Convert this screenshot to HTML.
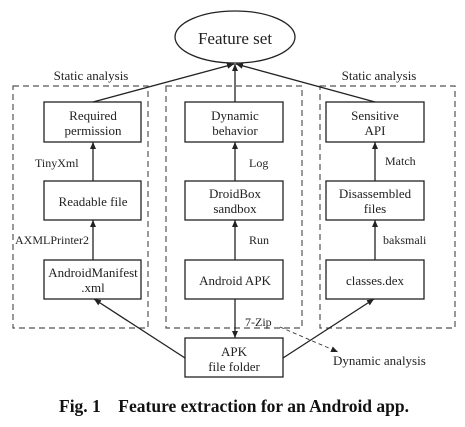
<!DOCTYPE html>
<html><head><meta charset="utf-8"><style>
html,body{margin:0;padding:0;background:#fff;}
svg{display:block;}
text{font-family:"Liberation Serif",serif;fill:#222;}
</style></head><body>
<svg width="465" height="427" viewBox="0 0 465 427" xmlns="http://www.w3.org/2000/svg">
<defs>
<marker id="a" markerWidth="8" markerHeight="8" refX="7" refY="4" orient="auto" markerUnits="userSpaceOnUse">
<path d="M0,1 L7,4 L0,7 Z" fill="#222"/></marker>
</defs>
<g fill="none" stroke="#555" stroke-width="1.2" stroke-dasharray="6,4">
<rect x="13" y="86" width="135" height="242"/>
<rect x="166" y="86" width="136" height="242"/>
<rect x="320" y="86" width="135" height="242"/>
</g>
<ellipse cx="235" cy="37" rx="60" ry="26" fill="#fff" stroke="#222" stroke-width="1.3"/>
<text x="235" y="44" font-size="17" text-anchor="middle">Feature set</text>
<text x="91" y="80" font-size="13" text-anchor="middle">Static analysis</text>
<text x="379" y="80" font-size="13" text-anchor="middle">Static analysis</text>
<g fill="#fff" stroke="#222" stroke-width="1.3">
<rect x="44" y="102" width="97" height="40"/>
<rect x="185" y="102" width="98" height="40"/>
<rect x="326" y="102" width="98" height="40"/>
<rect x="44" y="181" width="97" height="39"/>
<rect x="185" y="181" width="98" height="39"/>
<rect x="326" y="181" width="98" height="39"/>
<rect x="44" y="260" width="97" height="39"/>
<rect x="185" y="260" width="98" height="39"/>
<rect x="326" y="260" width="98" height="39"/>
<rect x="185" y="338" width="98" height="39"/>
</g>
<g stroke="#222" stroke-width="1.3" marker-end="url(#a)">
<line x1="93" y1="102" x2="234" y2="64"/>
<line x1="235" y1="102" x2="235" y2="64"/>
<line x1="375" y1="102" x2="236" y2="64"/>
<line x1="93" y1="181" x2="93" y2="142"/>
<line x1="235" y1="181" x2="235" y2="142"/>
<line x1="375" y1="181" x2="375" y2="142"/>
<line x1="93" y1="260" x2="93" y2="220"/>
<line x1="235" y1="260" x2="235" y2="220"/>
<line x1="375" y1="260" x2="375" y2="220"/>
<line x1="235" y1="299" x2="235" y2="338"/>
<line x1="185" y1="358" x2="94" y2="299"/>
<line x1="283" y1="358" x2="374" y2="299"/>
</g>
<line x1="280" y1="327" x2="338" y2="352" stroke="#333" stroke-width="0.9" stroke-dasharray="4,3" marker-end="url(#a)"/>
<g font-size="13" text-anchor="middle">
<text x="93" y="120">Required</text><text x="93" y="135">permission</text>
<text x="235" y="120">Dynamic</text><text x="235" y="135">behavior</text>
<text x="375" y="120">Sensitive</text><text x="375" y="135">API</text>
<text x="93" y="206">Readable file</text>
<text x="235" y="198">DroidBox</text><text x="235" y="213">sandbox</text>
<text x="375" y="198">Disassembled</text><text x="375" y="213">files</text>
<text x="93" y="277">AndroidManifest</text><text x="93" y="292">.xml</text>
<text x="235" y="285">Android APK</text>
<text x="375" y="285">classes.dex</text>
<text x="234" y="356">APK</text><text x="234" y="371">file folder</text>
</g>
<g font-size="12">
<text x="35" y="167">TinyXml</text>
<text x="249" y="167">Log</text>
<text x="385" y="165">Match</text>
<text x="15" y="244">AXMLPrinter2</text>
<text x="249" y="244">Run</text>
<text x="383" y="244">baksmali</text>
<text x="245" y="326">7-Zip</text>
</g>
<text x="333" y="365" font-size="13">Dynamic analysis</text>
<text x="234" y="412" font-size="17.5" font-weight="bold" text-anchor="middle" style="fill:#111">Fig. 1 &#160;&#160; Feature extraction for an Android app.</text>
</svg>
</body></html>
